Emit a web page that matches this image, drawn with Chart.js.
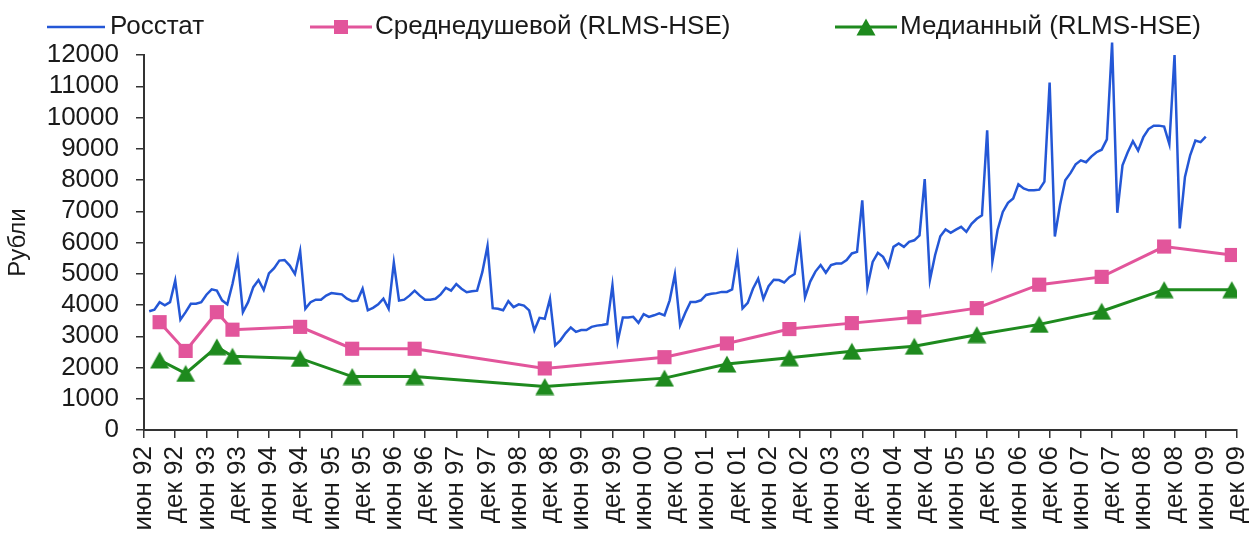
<!DOCTYPE html>
<html>
<head>
<meta charset="utf-8">
<script src="https://cdn.jsdelivr.net/npm/chart.js@4.4.1/dist/chart.umd.min.js"></script>
<style>
  body { margin: 0; background: #fff; }
  #wrap { width: 1258px; height: 544px; }
</style>
</head>
<body>
<div id="wrap"><canvas id="incomeChart" width="1258" height="544"></canvas></div>
<script>
// tick labels every 6 months, x = months since June 1992
const tickLabels = ['июн 92','дек 92','июн 93','дек 93','июн 94','дек 94','июн 95','дек 95','июн 96','дек 96',
    'июн 97','дек 97','июн 98','дек 98','июн 99','дек 99','июн 00','дек 00','июн 01','дек 01',
    'июн 02','дек 02','июн 03','дек 03','июн 04','дек 04','июн 05','дек 05','июн 06','дек 06',
    'июн 07','дек 07','июн 08','дек 08','июн 09','дек 09'];

// Росстат, monthly, starting July 1992 (month 1)
const rosstatStart = 1;
const rosstat = [
    3800, 3850, 4090, 3990, 4090, 4780, 3530, 3770, 4040, 4040, 4090, 4330,
    4500, 4460, 4150, 4020, 4670, 5470, 3770, 4090, 4570, 4800, 4480, 5010,
    5180, 5420, 5440, 5260, 4990, 5730, 3880, 4090, 4170, 4170, 4300, 4380,
    4360, 4340, 4200, 4120, 4140, 4520, 3830, 3910, 4020, 4200, 3880, 5360,
    4140, 4170, 4300, 4460, 4300, 4170, 4170, 4200, 4340, 4550, 4460, 4670,
    4520, 4410, 4440, 4460, 5050, 5890, 3900, 3880, 3830, 4120, 3930, 4020,
    3980, 3830, 3190, 3590, 3560, 4200, 2710, 2870, 3100, 3280, 3140, 3200,
    3200, 3300, 3340, 3360, 3390, 4630, 2830, 3600, 3600, 3620, 3430, 3710,
    3620, 3670, 3730, 3670, 4150, 4980, 3350, 3750, 4100, 4100, 4150, 4320,
    4360, 4380, 4420, 4420, 4500, 5550, 3890, 4070, 4520, 4840, 4200, 4600,
    4810, 4800, 4720, 4890, 4990, 6070, 4250, 4750, 5070, 5280, 5030, 5280,
    5330, 5330, 5440, 5650, 5700, 7350, 4590, 5380, 5670, 5540, 5230, 5860,
    5970, 5860, 6020, 6070, 6230, 8030, 4800, 5600, 6200, 6420, 6310, 6410,
    6500, 6340, 6600, 6760, 6870, 9590, 5390, 6400, 6980, 7270, 7410, 7860,
    7730, 7670, 7670, 7690, 7950, 11120, 6190, 7200, 7990, 8220, 8500, 8630,
    8570, 8750, 8890, 8970, 9300, 12400, 6950, 8470, 8890, 9240, 8940, 9370,
    9630, 9740, 9740, 9710, 9150, 12000, 6450, 8100, 8790, 9260, 9210, 9390
];

// RLMS-HSE survey rounds
const rlmsMonths = [3, 8, 14, 17, 30, 40, 52, 77, 100, 112, 124, 136, 148, 160, 172, 184, 196, 209];
const rlmsMean   = [3450, 2530, 3770, 3210, 3300, 2600, 2600, 1970, 2330, 2770, 3230, 3420, 3610, 3900, 4650, 4900, 5870, 5600];
const rlmsMedian = [2240, 1810, 2660, 2360, 2290, 1710, 1710, 1390, 1660, 2110, 2310, 2520, 2680, 3050, 3380, 3800, 4490, 4490];

const seriesNames = ['Росстат', 'Среднедушевой (RLMS-HSE)', 'Медианный (RLMS-HSE)'];
const BLUE = '#2457d6', PINK = '#e2559b', GREEN = '#1e8a1e';
const FONT = '"Liberation Sans", Arial, sans-serif';

// triangle marker centred on its box (like Excel)
function makeTriangle(color) {
    const c = document.createElement('canvas');
    c.width = 20; c.height = 18;
    const t = c.getContext('2d');
    t.fillStyle = color;
    t.beginPath();
    t.moveTo(10, 0.5);
    t.lineTo(19.5, 17.5);
    t.lineTo(0.5, 17.5);
    t.closePath();
    t.fill();
    return c;
}
const triangle = makeTriangle(GREEN);

// legend drawn at the top like the original
const topLegend = {
    id: 'topLegend',
    afterDraw(chart) {
        const ctx = chart.ctx;
        const y = 27;
        ctx.save();
        ctx.font = '26px ' + FONT;
        ctx.fillStyle = '#1a1a1a';
        ctx.textBaseline = 'middle';

        ctx.strokeStyle = BLUE; ctx.lineWidth = 2.5;
        ctx.beginPath(); ctx.moveTo(47, y); ctx.lineTo(105, y); ctx.stroke();
        ctx.fillText(seriesNames[0], 110, y);

        ctx.strokeStyle = PINK; ctx.lineWidth = 3;
        ctx.beginPath(); ctx.moveTo(310, y); ctx.lineTo(372, y); ctx.stroke();
        ctx.fillStyle = PINK; ctx.fillRect(334, y - 7, 14, 14);
        ctx.fillStyle = '#1a1a1a';
        ctx.fillText(seriesNames[1], 375, y);

        ctx.strokeStyle = GREEN; ctx.lineWidth = 3;
        ctx.beginPath(); ctx.moveTo(835, y); ctx.lineTo(897, y); ctx.stroke();
        ctx.drawImage(triangle, 856, y - 9);
        ctx.fillText(seriesNames[2], 900, y);
        ctx.restore();
    }
};

const ctx = document.getElementById('incomeChart').getContext('2d');
const incomeChart = new Chart(ctx, {
    type: 'line',
    data: {
        datasets: [{
            label: seriesNames[0],
            data: rosstat.map((v, i) => ({ x: rosstatStart + i, y: v })),
            borderColor: BLUE,
            borderWidth: 2.5,
            pointRadius: 0,
            tension: 0,
            clip: false
        }, {
            label: seriesNames[1],
            data: rlmsMonths.map((m, i) => ({ x: m, y: rlmsMean[i] })),
            borderColor: PINK,
            backgroundColor: PINK,
            borderWidth: 3,
            pointStyle: 'rect',
            pointRadius: 10,
            pointBorderWidth: 0
        }, {
            label: seriesNames[2],
            data: rlmsMonths.map((m, i) => ({ x: m, y: rlmsMedian[i] })),
            borderColor: GREEN,
            backgroundColor: GREEN,
            borderWidth: 3,
            pointStyle: triangle,
            pointRadius: 10
        }]
    },
    options: {
        responsive: false,
        animation: false,
        layout: { padding: { top: 55, right: 21, left: 0, bottom: 0 } },
        plugins: { legend: { display: false }, tooltip: { enabled: false } },
        scales: {
            x: {
                type: 'linear',
                min: 0,
                max: 210,
                afterFit: s => { s.height = 114; s.paddingLeft = 0; s.paddingRight = 0; },
                grid: { drawOnChartArea: false, drawTicks: true, tickLength: 8, color: '#333', lineWidth: 1.5 },
                border: { display: true, color: '#333', width: 2 },
                ticks: {
                    stepSize: 6,
                    autoSkip: false,
                    maxRotation: 90,
                    minRotation: 90,
                    padding: 8,
                    color: '#1a1a1a',
                    font: { family: FONT, size: 26 },
                    callback: v => tickLabels[Math.round(v / 6)]
                }
            },
            y: {
                min: 0,
                max: 12000,
                afterFit: s => { s.width = 144; s.paddingTop = 0; s.paddingBottom = 0; },
                grid: { drawOnChartArea: false, drawTicks: true, tickLength: 8, color: '#333', lineWidth: 1.5 },
                border: { display: true, color: '#333', width: 2 },
                ticks: {
                    stepSize: 1000,
                    autoSkip: false,
                    padding: 17,
                    color: '#1a1a1a',
                    font: { family: FONT, size: 26 },
                    callback: v => String(v)
                },
                title: {
                    display: true,
                    text: 'Рубли',
                    color: '#1a1a1a',
                    font: { family: FONT, size: 24 },
                    padding: { top: 4, bottom: 0 }
                }
            }
        }
    },
    plugins: [topLegend]
});
</script>
</body>
</html>
